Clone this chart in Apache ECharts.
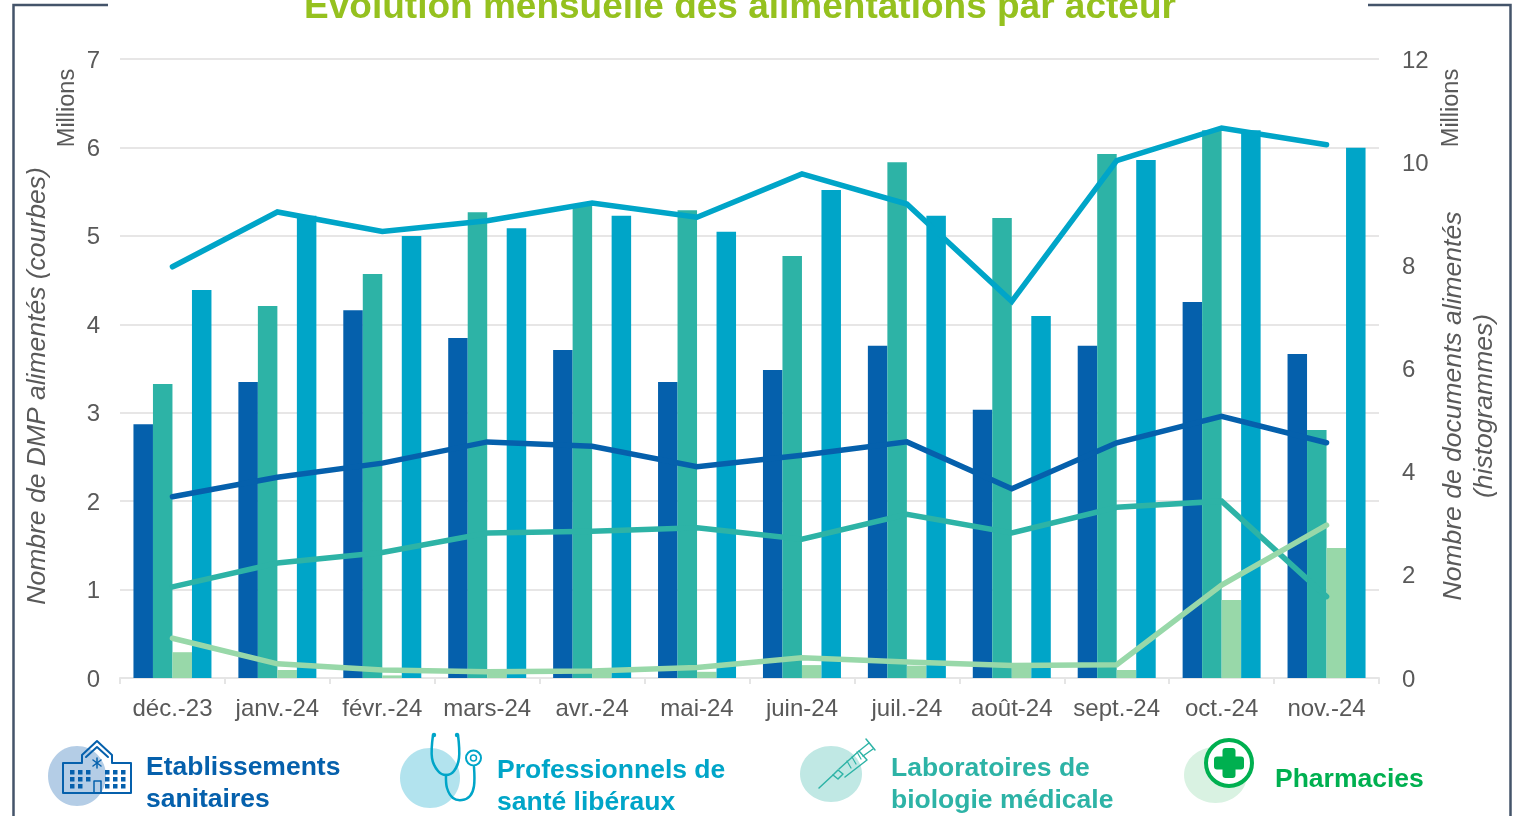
<!DOCTYPE html>
<html><head><meta charset="utf-8">
<style>html,body{margin:0;padding:0;background:#fff}#c{width:1513px;height:816px}</style>
<script src="https://cdn.jsdelivr.net/npm/echarts@6/dist/echarts.min.js"></script>
</head><body><div id="c"></div>
<script>
const months = ['déc.-23','janv.-24','févr.-24','mars-24','avr.-24','mai-24','juin-24','juil.-24','août-24','sept.-24','oct.-24','nov.-24'];
// Documents (histogrammes), millions, right axis
const docsEtab = [4.92,5.74,7.13,6.59,6.36,5.74,5.97,6.44,5.2,6.44,7.29,6.28];
const docsLabo = [5.7,7.21,7.83,9.03,9.17,9.07,8.18,10.0,8.92,10.16,10.62,4.81];
const docsPharma = [0.5,0.155,0.05,0.1,0.1,0.12,0.25,0.24,0.2,0.155,1.51,2.52];
const docsPS = [7.52,8.96,8.57,8.72,8.96,8.65,9.46,8.96,7.02,10.04,10.62,10.28];
// DMP (courbes), millions, left axis
const dmpPS = [4.65,5.27,5.05,5.17,5.37,5.21,5.70,5.36,4.26,5.85,6.22,6.03];
const dmpEtab = [2.05,2.27,2.43,2.67,2.62,2.39,2.52,2.67,2.14,2.66,2.96,2.66];
const dmpLabo = [1.03,1.30,1.42,1.64,1.66,1.70,1.57,1.85,1.64,1.93,2.0,0.92];
const dmpPharma = [0.45,0.16,0.09,0.07,0.08,0.12,0.23,0.18,0.14,0.15,1.05,1.73];

const BLUE='#0560ac', CYAN='#00a5c8', TEAL='#2db3a6', LGREEN='#98d8a9', GREEN='#00b050', GREY='#595959', FONT='"Liberation Sans", Arial, sans-serif';
const bar=(name,data,color)=>({name,type:'bar',yAxisIndex:1,data,barWidth:19.5,barGap:'0%',itemStyle:{color},z:2,silent:true});
const line=(name,data,color,z)=>({name,type:'line',yAxisIndex:0,data,symbol:'none',z,lineStyle:{color,width:5.5,cap:'round',join:'miter'},silent:true});
const txt=(x,y,text,size,fill,o={})=>({type:'text',x,y,rotation:o.rot||0,style:{text,font:`${o.style||''} ${size}px ${FONT}`,fill,align:o.align||'left',verticalAlign:'middle'}});
const vtxt=(x,y,text,size,style)=>txt(x,y,text,size,GREY,{rot:Math.PI/2,align:'center',style});
const frame=(points)=>({type:'polyline',shape:{points},style:{stroke:'#44546a',lineWidth:2.5,fill:null}});
const ell=(cx,cy,rx,ry,fill)=>({type:'ellipse',shape:{cx,cy,rx,ry},style:{fill}});
const rect=(x,y,width,height,fill,r)=>({type:'rect',shape:{x,y,width,height,r:r||0},style:{fill}});
const pl=(points,stroke,lineWidth,smooth)=>({type:'polyline',shape:{points,smooth:smooth||0},style:{stroke,lineWidth,fill:null,lineJoin:'round',lineCap:'round'}});
const win=[];
[[70,770],[78,770],[86,770],[70,777],[78,777],[86,777],[70,784],[78,784],[105,770],[113,770],[121,770],[105,777],[113,777],[121,777],[105,784],[113,784],[121,784]].forEach(p=>win.push(rect(p[0],p[1],4.5,4.5,BLUE)));
const hospital=[
 ell(77,776,29,30,'#b4cde6'),
 pl([[63,793],[63,763],[82,763],[82,755],[97,741],[112,755],[112,763],[131,763],[131,793],[63,793]],BLUE,2),
 pl([[86,757],[97,747],[108,757]],BLUE,2),
 pl([[97,758],[97,768]],BLUE,1.5),pl([[93,760],[101,766]],BLUE,1.5),pl([[101,760],[93,766]],BLUE,1.5),
 pl([[94,793],[94,781],[101,781],[101,793]],BLUE,1.5),
 ...win];
const steth=[
 ell(430,778,30,30,'#b2e3ee'),
 pl([[433,735],[432,758],[438,771],[446,775],[454,771],[459,758],[458,735]],CYAN,2.5,0.35),
 pl([[446,775],[447,788],[453,798],[462,800],[470,796],[474,786],[474,767]],CYAN,2.5,0.35),
 {type:'circle',shape:{cx:473.5,cy:758,r:7.5},style:{stroke:CYAN,lineWidth:2,fill:'#fff'}},
 {type:'circle',shape:{cx:473.5,cy:758,r:3},style:{stroke:CYAN,lineWidth:1.5,fill:null}},
 {type:'circle',shape:{cx:434,cy:735,r:2.2},style:{fill:CYAN}},{type:'circle',shape:{cx:457,cy:735,r:2.2},style:{fill:CYAN}}
];
const syringe=[
 ell(831,774,31,28,'#c0e8e4'),
 pl([[819,788],[833,775]],TEAL,1.5),
 pl([[833,775],[838,770],[843,774],[838,779],[833,775]],TEAL,1.5),
 pl([[839,769],[859,751],[867,760],[845,777]],TEAL,1.5),
 pl([[859,751],[869,743]],TEAL,1.5),pl([[863,756],[873,749]],TEAL,1.5),
 pl([[866,739],[875,750]],TEAL,1.5),
 pl([[847,761],[851,768]],TEAL,1.2),pl([[852,757],[856,764]],TEAL,1.2),pl([[857,752],[861,759]],TEAL,1.2)
];
const pharma=[
 ell(1215.5,775,31.5,28,'#d9f2e2'),
 {type:'ellipse',shape:{cx:1229,cy:763,rx:23,ry:23},style:{stroke:GREEN,lineWidth:4,fill:'#fff'}},
 rect(1222.5,748,13,30,GREEN,3),rect(1214,756.5,30,13,GREEN,3)
];
const chart=echarts.init(document.getElementById('c'),null,{renderer:'canvas'});
chart.setOption({
 animation:false,backgroundColor:'#fff',
 title:{text:'Evolution mensuelle des alimentations par acteur',left:735,top:-16,textAlign:'center',textStyle:{color:'#95c11f',fontFamily:FONT,fontWeight:'bold',fontSize:37}},
 grid:{left:120,right:134,top:59,bottom:138},
 xAxis:{type:'category',data:months,boundaryGap:true,
  axisLine:{lineStyle:{color:'#e5e5e5',width:2}},axisTick:{show:true,length:6,lineStyle:{color:'#e5e5e5',width:2}},
  axisLabel:{color:GREY,fontFamily:FONT,fontSize:24,margin:19,interval:0}},
 yAxis:[
  {type:'value',min:0,max:7,interval:1,axisLine:{show:false},axisTick:{show:false},
   splitLine:{lineStyle:{color:'#e7e6e6',width:2}},axisLabel:{color:GREY,fontFamily:FONT,fontSize:24,margin:20,verticalAlign:'top',lineHeight:4}},
  {type:'value',min:0,max:12,interval:2,position:'right',axisLine:{show:false},axisTick:{show:false},splitLine:{show:false},
   axisLabel:{color:GREY,fontFamily:FONT,fontSize:24,margin:23,verticalAlign:'top',lineHeight:4}}
 ],
 series:[
  bar('Etablissements sanitaires (documents)',docsEtab,BLUE),
  bar('Laboratoires de biologie médicale (documents)',docsLabo,TEAL),
  bar('Pharmacies (documents)',docsPharma,LGREEN),
  bar('Professionnels de santé libéraux (documents)',docsPS,CYAN),
  line('Professionnels de santé libéraux (DMP)',dmpPS,CYAN,5),
  line('Etablissements sanitaires (DMP)',dmpEtab,BLUE,6),
  line('Laboratoires de biologie médicale (DMP)',dmpLabo,TEAL,7),
  line('Pharmacies (DMP)',dmpPharma,LGREEN,8)
 ],
 graphic:{elements:[
  frame([[108,5],[13.5,5],[13.5,816]]),
  frame([[1368,5],[1510.5,5],[1510.5,816]]),
  vtxt(68,108,'Millions',23.5),vtxt(1452,108,'Millions',23.5),
  vtxt(38,386,'Nombre de DMP alimentés (courbes)',26.5,'italic'),
  vtxt(1454,406,'Nombre de documents alimentés',26.5,'italic'),
  vtxt(1485,406,'(histogrammes)',26.5,'italic'),
  ...hospital,...steth,...syringe,...pharma,
  txt(146,768,'Etablissements',26.5,BLUE,{style:'bold'}),txt(146,800,'sanitaires',26.5,BLUE,{style:'bold'}),
  txt(497,771,'Professionnels de',26.5,CYAN,{style:'bold'}),txt(497,803,'santé libéraux',26.5,CYAN,{style:'bold'}),
  txt(891,769,'Laboratoires de',26.5,TEAL,{style:'bold'}),txt(891,801,'biologie médicale',26.5,TEAL,{style:'bold'}),
  txt(1275,780,'Pharmacies',26.5,GREEN,{style:'bold'})
 ]}
});
</script></body></html>
